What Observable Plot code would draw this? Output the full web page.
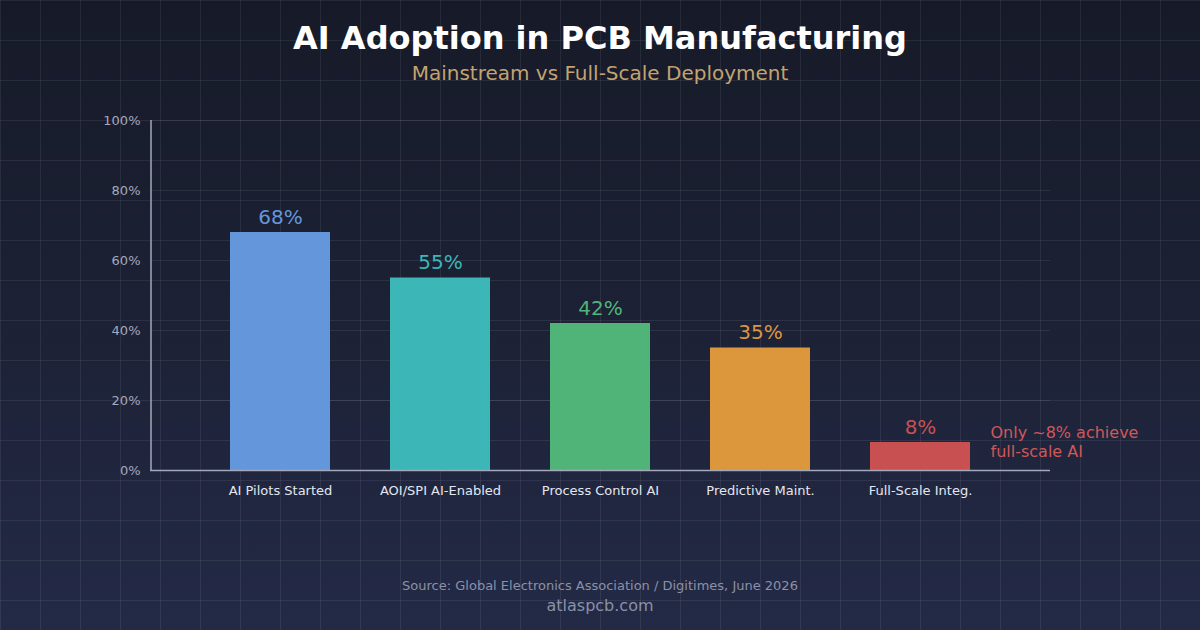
<!DOCTYPE html>
<html>
<head>
<meta charset="utf-8">
<script src="https://cdn.jsdelivr.net/npm/d3@7"></script>
<script src="https://cdn.jsdelivr.net/npm/@observablehq/plot@0.6"></script>
<style>
  html, body { margin: 0; padding: 0; }
  body { width: 1200px; height: 630px; overflow: hidden; font-family: "DejaVu Sans", sans-serif; }
  #page {
    position: relative; width: 1200px; height: 630px;
    background-color: #1b2033;
    background-image:
      linear-gradient(rgba(255,255,255,0.07) 1px, transparent 1px),
      linear-gradient(90deg, rgba(255,255,255,0.07) 1px, transparent 1px),
      linear-gradient(180deg, #161a28 0%, #1c2135 50%, #232a46 100%);
    background-size: 40px 40px, 40px 40px, 100% 100%;
  }
  #title { position: absolute; top: 18px; left: 0; width: 1200px; text-align: center; color: #ffffff; font-weight: bold; font-size: 32px; line-height: 40px; }
  #subtitle { position: absolute; top: 61px; left: 0; width: 1200px; text-align: center; color: #c3a36e; font-size: 20px; line-height: 24px; }
  #chart { position: absolute; top: 100px; left: 0; }
  #source { position: absolute; top: 578px; left: 0; width: 1200px; text-align: center; color: #8a91a8; font-size: 13px; line-height: 16px; }
  #site { position: absolute; top: 596px; left: 0; width: 1200px; text-align: center; color: #8a91a8; font-size: 16px; line-height: 20px; }
</style>
</head>
<body>
<div id="page">
  <div id="title">AI Adoption in PCB Manufacturing</div>
  <div id="subtitle">Mainstream vs Full-Scale Deployment</div>
  <div id="chart"></div>
  <div id="source">Source: Global Electronics Association / Digitimes, June 2026</div>
  <div id="site">atlaspcb.com</div>
</div>
<script>
const categories = ["AI Pilots Started", "AOI/SPI AI-Enabled", "Process Control AI", "Predictive Maint.", "Full-Scale Integ."];
const values = [68, 55, 42, 35, 8];
const colors = ["#6496dc", "#3cb6b6", "#50b478", "#dc963c", "#c85050"];
const yTicks = [0, 20, 40, 60, 80, 100];
const annotationText = "Only ~8% achieve\nfull-scale AI";
const annotationCategory = "Full-Scale Integ.";
const annotationValue = 8;

const data = categories.map((c, i) => ({category: c, value: values[i], color: colors[i]}));

const chart = Plot.plot({
  width: 1200,
  height: 400,
  marginLeft: 150,
  marginRight: 150,
  marginTop: 20,
  marginBottom: 30,
  style: {background: "transparent", fontFamily: "DejaVu Sans, sans-serif", overflow: "visible"},
  x: {domain: categories, paddingInner: 0.375, paddingOuter: 0.5, label: null},
  y: {domain: [0, 100], label: null},
  marks: [
    Plot.gridY(yTicks, {stroke: "#ffffff", strokeOpacity: 0.08}),
    Plot.axisY(yTicks, {tickSize: 0, tickPadding: 10, tickFormat: d => d + "%", fill: "#a4a9bd", fontSize: 13, label: null}),
    Plot.axisX({tickSize: 0, tickPadding: 15, fill: "#e4e7f0", fontSize: 13, label: null}),
    Plot.barY(data, {x: "category", y: "value", fill: "color"}),
    Plot.ruleY([0], {stroke: "#a4a9bd", strokeWidth: 1.5}),
    Plot.text(data, {x: "category", y: "value", text: d => d.value + "%", fill: "color", fontSize: 20, lineAnchor: "bottom", dy: -9}),
    Plot.text([{category: annotationCategory, value: annotationValue, label: annotationText}], {x: "category", y: "value", text: "label", fill: "#d05858", fontSize: 16, textAnchor: "start", lineAnchor: "middle", lineHeight: 1.2, dx: 70, dy: -1})
  ]
});

// vertical y-axis line drawn from the chart's own y scale
const yScale = chart.scale("y");
d3.select(chart).append("line")
  .attr("x1", 151).attr("x2", 151)
  .attr("y1", yScale.apply(100)).attr("y2", yScale.apply(0))
  .attr("stroke", "#a4a9bd").attr("stroke-width", 1.5);

document.getElementById("chart").appendChild(chart);
</script>
</body>
</html>
